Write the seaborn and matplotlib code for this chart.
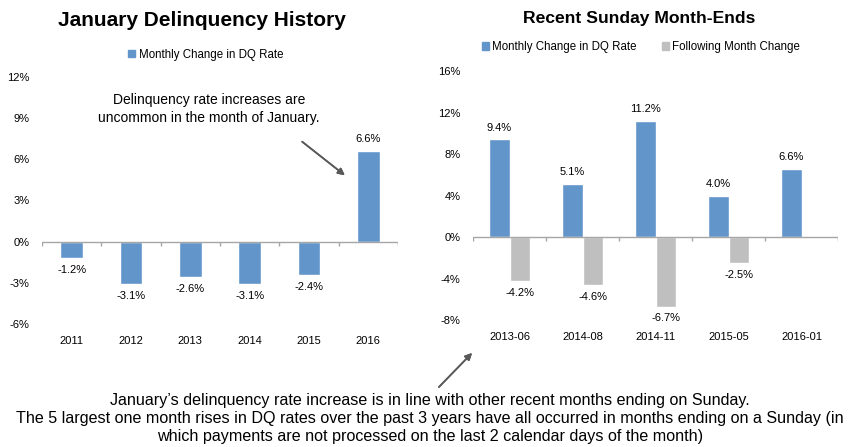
import matplotlib
matplotlib.use("Agg")
import matplotlib.pyplot as plt
import pandas as pd
import seaborn as sns
from matplotlib.patches import Patch

# data
years = ["2011", "2012", "2013", "2014", "2015", "2016"]
jan_change = [-1.2, -3.1, -2.6, -3.1, -2.4, 6.6]

months = ["2013-06", "2014-08", "2014-11", "2015-05", "2016-01"]
month_change = [9.4, 5.1, 11.2, 4.0, 6.6]
following_change = [-4.2, -4.6, -6.7, -2.5, None]

series_names = ["Monthly Change in DQ Rate", "Following Month Change"]
blue = "#6296CB"
grey = "#BFBFBF"

sns.set_theme(style="white")
plt.rcParams["font.family"] = ["Liberation Sans", "DejaVu Sans"]
plt.rcParams.update({"text.color": "black", "xtick.color": "black",
                     "ytick.color": "black"})

W, H = 855, 447
fig = plt.figure(figsize=(W / 100, H / 100), dpi=100)
fs = 8


def px_axes(l, t, r, b):
    return fig.add_axes([l / W, 1 - b / H, (r - l) / W, (b - t) / H])


def style_axis(ax, ymin, ymax, step, ncat):
    ax.set_ylim(ymin, ymax)
    ticks = list(range(ymin, ymax + 1, step))
    ax.set_yticks(ticks)
    ax.set_yticklabels([f"{t}%" for t in ticks])
    ax.set_xlim(-0.5, ncat - 0.5)
    for s in ax.spines.values():
        s.set_visible(False)
    ax.tick_params(axis="y", length=0, pad=9, labelsize=fs)
    ax.tick_params(axis="x", length=0, pad=9, labelsize=fs)
    ax.set_xlabel("")
    ax.set_ylabel("")
    ax.axhline(0, color="#A6A6A6", lw=1, zorder=3)
    tick_len = (ymax - ymin) * 0.018
    ax.vlines([i - 0.5 for i in range(ncat + 1)], -tick_len, 0,
              color="#A6A6A6", lw=1, zorder=3)


# left chart
ax1 = px_axes(42, 77, 398, 324)
df1 = pd.DataFrame({"year": years, "change": jan_change})
sns.barplot(data=df1, x="year", y="change", color=blue, width=0.38,
            saturation=1, ax=ax1)
style_axis(ax1, -6, 12, 3, len(years))
for c in ax1.containers:
    ax1.bar_label(c, fmt="{:.1f}%", padding=5, fontsize=fs)
ax1.legend(handles=[Patch(color=blue, label=series_names[0])],
           loc="center", bbox_to_anchor=(0.46, 1.09), frameon=False,
           fontsize=8.3, handlelength=0.6, handleheight=0.6, handletextpad=0.3)

# right chart
ax2 = px_axes(473, 71, 838, 320)
df2 = pd.DataFrame({
    "month": months * 2,
    "series": [series_names[0]] * len(months) + [series_names[1]] * len(months),
    "change": month_change + following_change,
})
sns.barplot(data=df2, x="month", y="change", hue="series",
            palette=[blue, grey], width=0.56, saturation=1, ax=ax2)
style_axis(ax2, -8, 16, 4, len(months))
for c in ax2.containers:
    ax2.bar_label(c, fmt="{:.1f}%", padding=5, fontsize=fs)
ax2.legend(handles=[Patch(color=blue, label=series_names[0]),
                    Patch(color=grey, label=series_names[1])],
           loc="center", bbox_to_anchor=(0.46, 1.096), ncol=2, frameon=False,
           fontsize=8.3, handlelength=0.6, handleheight=0.6, handletextpad=0.3,
           columnspacing=2.2)

# titles
fig.text(202 / W, 1 - 21 / H, "January Delinquency History", ha="center",
         va="center", fontsize=15, fontweight="bold")
fig.text(639 / W, 1 - 18 / H, "Recent Sunday Month-Ends", ha="center",
         va="center", fontsize=12.6, fontweight="bold")

# annotations
fig.text(209 / W, 1 - 109 / H,
         "Delinquency rate increases are\nuncommon in the month of January.",
         ha="center", va="center", fontsize=10, linespacing=1.3)
fig.text(430 / W, 1 - 419 / H,
         "January\u2019s delinquency rate increase is in line with other recent months ending on Sunday.\n"
         "The 5 largest one month rises in DQ rates over the past 3 years have all occurred in months ending on a Sunday (in\n"
         "which payments are not processed on the last 2 calendar days of the month)",
         ha="center", va="center", fontsize=11.6, linespacing=1.25)

arrow = dict(arrowstyle="-|>", color="#595959", lw=1.2, mutation_scale=10)
fig.add_artist(plt.annotate("", xy=(347 / W, 1 - 177 / H), xytext=(300 / W, 1 - 140 / H),
                            xycoords="figure fraction", textcoords="figure fraction",
                            arrowprops=arrow))
fig.add_artist(plt.annotate("", xy=(474 / W, 1 - 351 / H), xytext=(437 / W, 1 - 389 / H),
                            xycoords="figure fraction", textcoords="figure fraction",
                            arrowprops=arrow))

fig.savefig("out.png", dpi=100)
